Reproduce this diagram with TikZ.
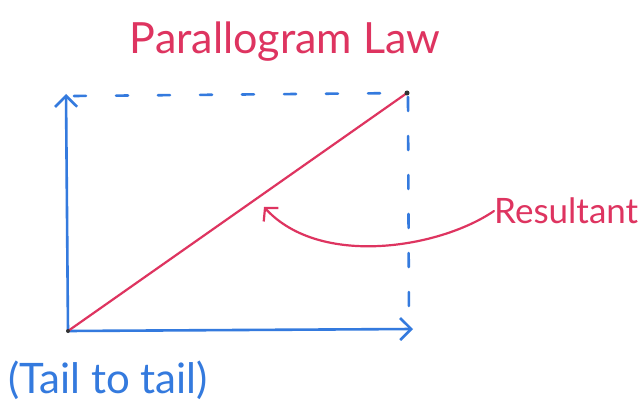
\documentclass[tikz,border=0pt]{standalone}
\usepackage{fontspec}
\setmainfont{Lato}
\usetikzlibrary{arrows.meta}
\definecolor{penred}{RGB}{222,52,96}
\definecolor{penblue}{RGB}{52,122,222}
\tikzset{
  vec/.style={penblue,line width=2.6pt,line cap=round,-{Straight Barb[length=11pt,width=22pt,line width=2.6pt]}},
  dashh/.style={penblue,line width=2.6pt,line cap=round,dash pattern=on 12pt off 30pt},
  dashv/.style={penblue,line width=2.6pt,line cap=round,dash pattern=on 14pt off 25pt},
  res/.style={penred,line width=2.2pt,line cap=round},
  lbl/.style={inner sep=0pt,anchor=center},
  dotpt/.style={circle,fill=black!80,inner sep=0pt,minimum size=5pt}
}
\begin{document}
\begin{tikzpicture}[x=1pt,y=-1pt]
\useasboundingbox[fill=white] (0,0) rectangle (643,401);
\coordinate (O) at (68,331);
\coordinate (Xend) at (413,329);
\coordinate (Yend) at (66,94);
\coordinate (P) at (407,93);
\coordinate (Top0) at (74,96);
\coordinate (Vtop) at (408,97);
\coordinate (Pr) at (409,330);
% title
\node[lbl,penred,font=\fontsize{43}{46}\selectfont] (title) at (285,42) {Parallogram Law};
% vectors
\draw[vec] (O) -- (Xend);
\draw[vec] (O) -- (Yend);
\draw[dashh] (Top0) -- (P);
\draw[dashv] (Vtop) -- (Pr);
% resultant
\draw[res] (O) -- (P);
\node[dotpt] (pdot) at (P) {};
\node[dotpt,minimum size=4pt] (odot) at (O) {};
% label
\node[lbl,penred,anchor=west,font=\fontsize{35}{38}\selectfont] (resl) at (494,211) {Resultant};
\draw[penred,line width=2.2pt,line cap=round,-{Straight Barb[length=9pt,width=20pt,line width=2.2pt]}]
  (resl.west) .. controls (440,248) and (320,268) .. (264,207);
\node[lbl,penblue,anchor=west,font=\fontsize{42}{46}\selectfont] (tail) at (8,380) {(Tail to tail)};
\end{tikzpicture}
\end{document}
